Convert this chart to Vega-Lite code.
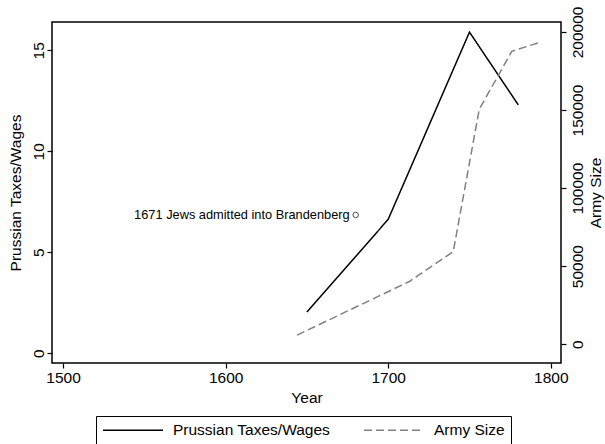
{
  "$schema": "https://vega.github.io/schema/vega-lite/v6.json",
  "width": 509,
  "height": 341,
  "autosize": {"type": "none"},
  "padding": {"left": 52, "top": 22, "right": 44, "bottom": 81},
  "background": "white",
  "config": {
    "font": "Liberation Sans",
    "view": {"stroke": "black", "strokeWidth": 1.5},
    "axis": {
      "grid": false,
      "domain": false,
      "tickColor": "black",
      "tickSize": 5,
      "tickWidth": 1.2,
      "labelColor": "black",
      "titleColor": "black",
      "labelFontSize": 15.5,
      "titleFontSize": 15.5,
      "titleFontWeight": "normal",
      "labelFont": "Liberation Sans",
      "titleFont": "Liberation Sans"
    },
    "legend": {
      "orient": "none",
      "legendX": 44,
      "legendY": 394,
      "direction": "horizontal",
      "columns": 2,
      "symbolType": "stroke",
      "symbolSize": 3600,
      "symbolStrokeWidth": 1.5,
      "clipHeight": 16,
      "symbolOffset": 0,
      "labelFontSize": 15.5,
      "labelFont": "Liberation Sans",
      "labelColor": "black",
      "labelOffset": 9,
      "labelLimit": 400,
      "padding": 6,
      "columnPadding": 32,
      "strokeColor": "black",
      "fillColor": "white"
    }
  },
  "datasets": {
    "taxes": [
      {"series": "Prussian Taxes/Wages", "year": 1650, "value": 2.04},
      {"series": "Prussian Taxes/Wages", "year": 1700, "value": 6.63},
      {"series": "Prussian Taxes/Wages", "year": 1750, "value": 15.9},
      {"series": "Prussian Taxes/Wages", "year": 1780, "value": 12.3}
    ],
    "army": [
      {"series": "Army Size", "year": 1644, "value": 5800},
      {"series": "Army Size", "year": 1713, "value": 40100},
      {"series": "Army Size", "year": 1740, "value": 59200},
      {"series": "Army Size", "year": 1756, "value": 150400},
      {"series": "Army Size", "year": 1776, "value": 187600},
      {"series": "Army Size", "year": 1793, "value": 193300}
    ],
    "note": [
      {"year": 1680, "value": 6.85, "label": "1671 Jews admitted into Brandenberg"}
    ]
  },
  "encoding": {
    "x": {
      "field": "year", "type": "quantitative",
      "scale": {"domain": [1493.2, 1806.3], "nice": false, "zero": false},
      "axis": {"values": [1500, 1600, 1700, 1800], "format": "d", "title": "Year", "labelPadding": 2.5, "titleBaseline": "alphabetic", "titleY": 39}
    }
  },
  "layer": [
    {
      "encoding": {
        "y": {
          "field": "value", "type": "quantitative",
          "scale": {"domain": [-0.48, 16.4], "nice": false, "zero": false},
          "axis": {"orient": "left", "values": [0, 5, 10, 15], "title": "Prussian Taxes/Wages", "labelAngle": 270, "labelAlign": "center", "labelBaseline": "alphabetic", "labelPadding": 4, "titleAngle": 270, "titleBaseline": "alphabetic", "titleX": -32, "titleY": 170.5, "titleAlign": "center"}
        }
      },
      "layer": [
        {
          "data": {"name": "taxes"},
          "mark": {"type": "line", "strokeWidth": 1.5},
          "encoding": {
            "color": {
              "field": "series", "type": "nominal",
              "scale": {"domain": ["Prussian Taxes/Wages", "Army Size"], "range": ["black", "#808080"]},
              "legend": {"title": null}
            },
            "strokeDash": {
              "field": "series", "type": "nominal",
              "scale": {"domain": ["Prussian Taxes/Wages", "Army Size"], "range": [[1, 0], [8, 4]]},
              "legend": {"title": null}
            }
          }
        },
        {
          "data": {"name": "note"},
          "mark": {"type": "point", "shape": "circle", "filled": false, "size": 30, "color": "black", "strokeWidth": 1}
        },
        {
          "data": {"name": "note"},
          "mark": {"type": "text", "align": "right", "baseline": "middle", "dx": -6, "fontSize": 12.8, "color": "black", "font": "Liberation Sans"},
          "encoding": {
            "text": {"field": "label"}
          }
        }
      ]
    },
    {
      "data": {"name": "army"},
      "mark": {"type": "line", "strokeWidth": 1.5},
      "encoding": {
        "y": {
          "field": "value", "type": "quantitative",
          "scale": {"domain": [-12100, 206400], "nice": false, "zero": false},
          "axis": {"orient": "right", "values": [0, 50000, 100000, 150000, 200000], "format": "d", "title": "Army Size", "labelAngle": 270, "labelAlign": "center", "labelBaseline": "top", "labelPadding": 4, "titleAngle": 270, "titleBaseline": "alphabetic", "titleX": 39, "titleY": 170.5, "titleAlign": "center"}
        },
        "color": {
          "field": "series", "type": "nominal",
          "scale": {"domain": ["Prussian Taxes/Wages", "Army Size"], "range": ["black", "#808080"]},
          "legend": {"title": null}
        },
        "strokeDash": {
          "field": "series", "type": "nominal",
          "scale": {"domain": ["Prussian Taxes/Wages", "Army Size"], "range": [[1, 0], [8, 4]]},
          "legend": {"title": null}
        }
      }
    }
  ],
  "resolve": {"scale": {"y": "independent"}}
}
